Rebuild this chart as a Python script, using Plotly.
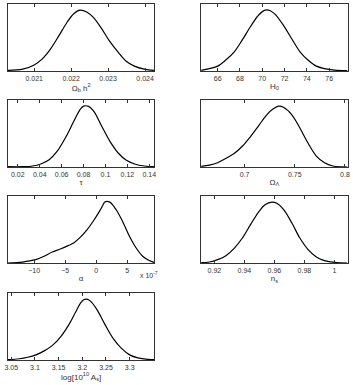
import plotly.graph_objects as go

# marginalised posteriors (peak normalised to 1)
omb_x = [0.02029, 0.02069, 0.02100, 0.02122, 0.02144, 0.02167, 0.02189, 0.02207, 0.02224,
         0.02242, 0.02260, 0.02282, 0.02304, 0.02327, 0.02349, 0.02371, 0.02398, 0.02424]
omb_y = [0.01, 0.03, 0.10, 0.20, 0.36, 0.58, 0.80, 0.94, 1.00,
         0.97, 0.88, 0.70, 0.49, 0.31, 0.16, 0.08, 0.03, 0.01]

h0_x = [64.52, 65.26, 66.0, 66.73, 67.47, 68.21, 68.95, 69.68, 70.27, 70.72,
        71.16, 71.9, 72.64, 73.37, 74.1, 74.85, 75.58, 76.47, 77.65]
h0_y = [0.01, 0.04, 0.08, 0.18, 0.31, 0.51, 0.73, 0.92, 1.0, 0.99,
        0.93, 0.75, 0.53, 0.32, 0.18, 0.08, 0.04, 0.016, 0.005]

tau_x = [0.011, 0.0245, 0.0335, 0.041, 0.0486, 0.056, 0.0635, 0.0711, 0.0771, 0.0801,
         0.0846, 0.0891, 0.0966, 0.1041, 0.1116, 0.1191, 0.1266, 0.1356, 0.1446]
tau_y = [0.005, 0.005, 0.016, 0.05, 0.12, 0.26, 0.48, 0.75, 0.95, 1.0,
         0.995, 0.92, 0.67, 0.42, 0.23, 0.11, 0.05, 0.016, 0.005]

oml_x = [0.6567, 0.6649, 0.6731, 0.6813, 0.6895, 0.6977, 0.7059, 0.7141, 0.7223, 0.7289,
         0.7338, 0.7387, 0.7469, 0.7551, 0.7633, 0.7715, 0.7797, 0.7879, 0.7961, 0.8026]
oml_y = [0.01, 0.03, 0.07, 0.14, 0.22, 0.34, 0.5, 0.68, 0.86, 0.96,
         1.0, 0.98, 0.86, 0.64, 0.39, 0.18, 0.07, 0.017, 0.003, 0.0]

alpha_x = [-14.24, -12.38, -11.07, -9.75, -8.41, -7.09, -5.77, -4.44, -3.64, -2.59, -1.53, -0.46,
           0.59, 1.13, 1.38, 2.18, 3.24, 4.31, 5.36, 6.42, 7.49, 8.54, 9.33]
alpha_y = [0.0, 0.01, 0.03, 0.055, 0.11, 0.18, 0.23, 0.29, 0.33, 0.42, 0.54, 0.69,
           0.86, 0.96, 1.0, 1.0, 0.87, 0.67, 0.44, 0.25, 0.11, 0.04, 0.01]

ns_x = [0.9112, 0.9167, 0.9222, 0.9277, 0.9332, 0.9387, 0.9441, 0.9496, 0.954, 0.9584,
        0.9617, 0.9661, 0.9716, 0.977, 0.9825, 0.988, 0.9935, 1.0001, 1.0088]
ns_y = [0.005, 0.016, 0.055, 0.12, 0.24, 0.41, 0.63, 0.84, 0.96, 1.0,
        0.98, 0.88, 0.66, 0.41, 0.22, 0.1, 0.04, 0.01, 0.0]

las_x = [3.0431, 3.0675, 3.0848, 3.1021, 3.1196, 3.1369, 3.1542, 3.1717, 3.1854, 3.1958, 3.2029,
         3.2098, 3.2167, 3.2306, 3.2479, 3.2654, 3.2827, 3.3, 3.3175, 3.3383, 3.3521]
las_y = [0.005, 0.02, 0.045, 0.085, 0.15, 0.24, 0.38, 0.58, 0.78, 0.93, 0.99,
         1.0, 0.97, 0.83, 0.58, 0.35, 0.19, 0.084, 0.034, 0.01, 0.005]

# tick values / labels
omb_ticks = [0.021, 0.022, 0.023, 0.024]
h0_ticks = [66, 68, 70, 72, 74, 76]
tau_ticks = [0.02, 0.04, 0.06, 0.08, 0.1, 0.12, 0.14]
oml_ticks = [0.7, 0.75, 0.8]
alpha_ticks = [-10, -5, 0, 5]
alpha_labels = ["\u221210", "\u22125", "0", "5"]
ns_ticks = [0.92, 0.94, 0.96, 0.98, 1.0]
ns_labels = ["0.92", "0.94", "0.96", "0.98", "1"]
las_ticks = [3.05, 3.1, 3.15, 3.2, 3.25, 3.3]

W, H = 353, 385

# (x, y, title, ticks, ticklabels, xrange, left px, top px)
panels = [
    (omb_x, omb_y, "\u03a9<sub>b</sub> h<sup>2</sup>", omb_ticks, None, [0.02029, 0.02425], 5, 4),
    (h0_x, h0_y, "H<sub>0</sub>", h0_ticks, None, [64.52, 77.65], 201, 4),
    (tau_x, tau_y, "\u03c4", tau_ticks, None, [0.011, 0.1446], 5, 100),
    (oml_x, oml_y, "\u03a9<sub>\u039b</sub>", oml_ticks, None, [0.6567, 0.8026], 201, 100),
    (alpha_x, alpha_y, "\u03b1", alpha_ticks, alpha_labels, [-14.24, 9.37], 5, 196),
    (ns_x, ns_y, "n<sub>s</sub>", ns_ticks, ns_labels, [0.9112, 1.0088], 201, 196),
    (las_x, las_y, "log[10<sup>10</sup> A<sub>s</sub>]", las_ticks, None, [3.043, 3.352], 5, 293),
]
pw, ph = 148.5, 67

fig = go.Figure()
layout = {}
for i, (xs, ys, title, tv, tt, xr, left, top) in enumerate(panels):
    n = "" if i == 0 else str(i + 1)
    fig.add_trace(go.Scatter(x=xs, y=ys, mode="lines", line=dict(color="black", width=1.2, shape="spline"),
                             xaxis="x" + n, yaxis="y" + n, showlegend=False, hoverinfo="skip"))
    layout["xaxis" + n] = dict(
        domain=[left / W, (left + pw) / W], range=xr, anchor="y" + n,
        tickvals=tv, ticktext=tt if tt else [("%g" % v) for v in tv],
        ticks="inside", ticklen=3, tickcolor="#333", mirror="ticks",
        showline=True, linecolor="#333", linewidth=1, showgrid=False, zeroline=False,
        tickfont=dict(size=7, color="#333"), ticklabelstandoff=1,
        title=dict(text=title, font=dict(size=8, color="#333"), standoff=1),
    )
    layout["yaxis" + n] = dict(
        domain=[1 - (top + ph) / H, 1 - top / H], range=[0, 1.1], anchor="x" + n,
        showticklabels=False, ticks="", showline=True, mirror=True, linecolor="#333", linewidth=1,
        showgrid=False, zeroline=False,
    )

fig.update_layout(**layout)
fig.add_annotation(text="x 10<sup>-7</sup>", x=148 / W, y=1 - 281 / H, xref="paper", yref="paper",
                   showarrow=False, font=dict(size=7, color="#333", family="Liberation Sans"))
fig.update_layout(width=W, height=H, margin=dict(l=0, r=0, t=0, b=0),
                  paper_bgcolor="white", plot_bgcolor="white",
                  font=dict(family="Liberation Sans", color="#333"))
# drop the page's default body margin so the figure sits at the window origin
fig.write_html("out.html", config={"displayModeBar": False},
               post_script="document.body.style.margin='0';")
